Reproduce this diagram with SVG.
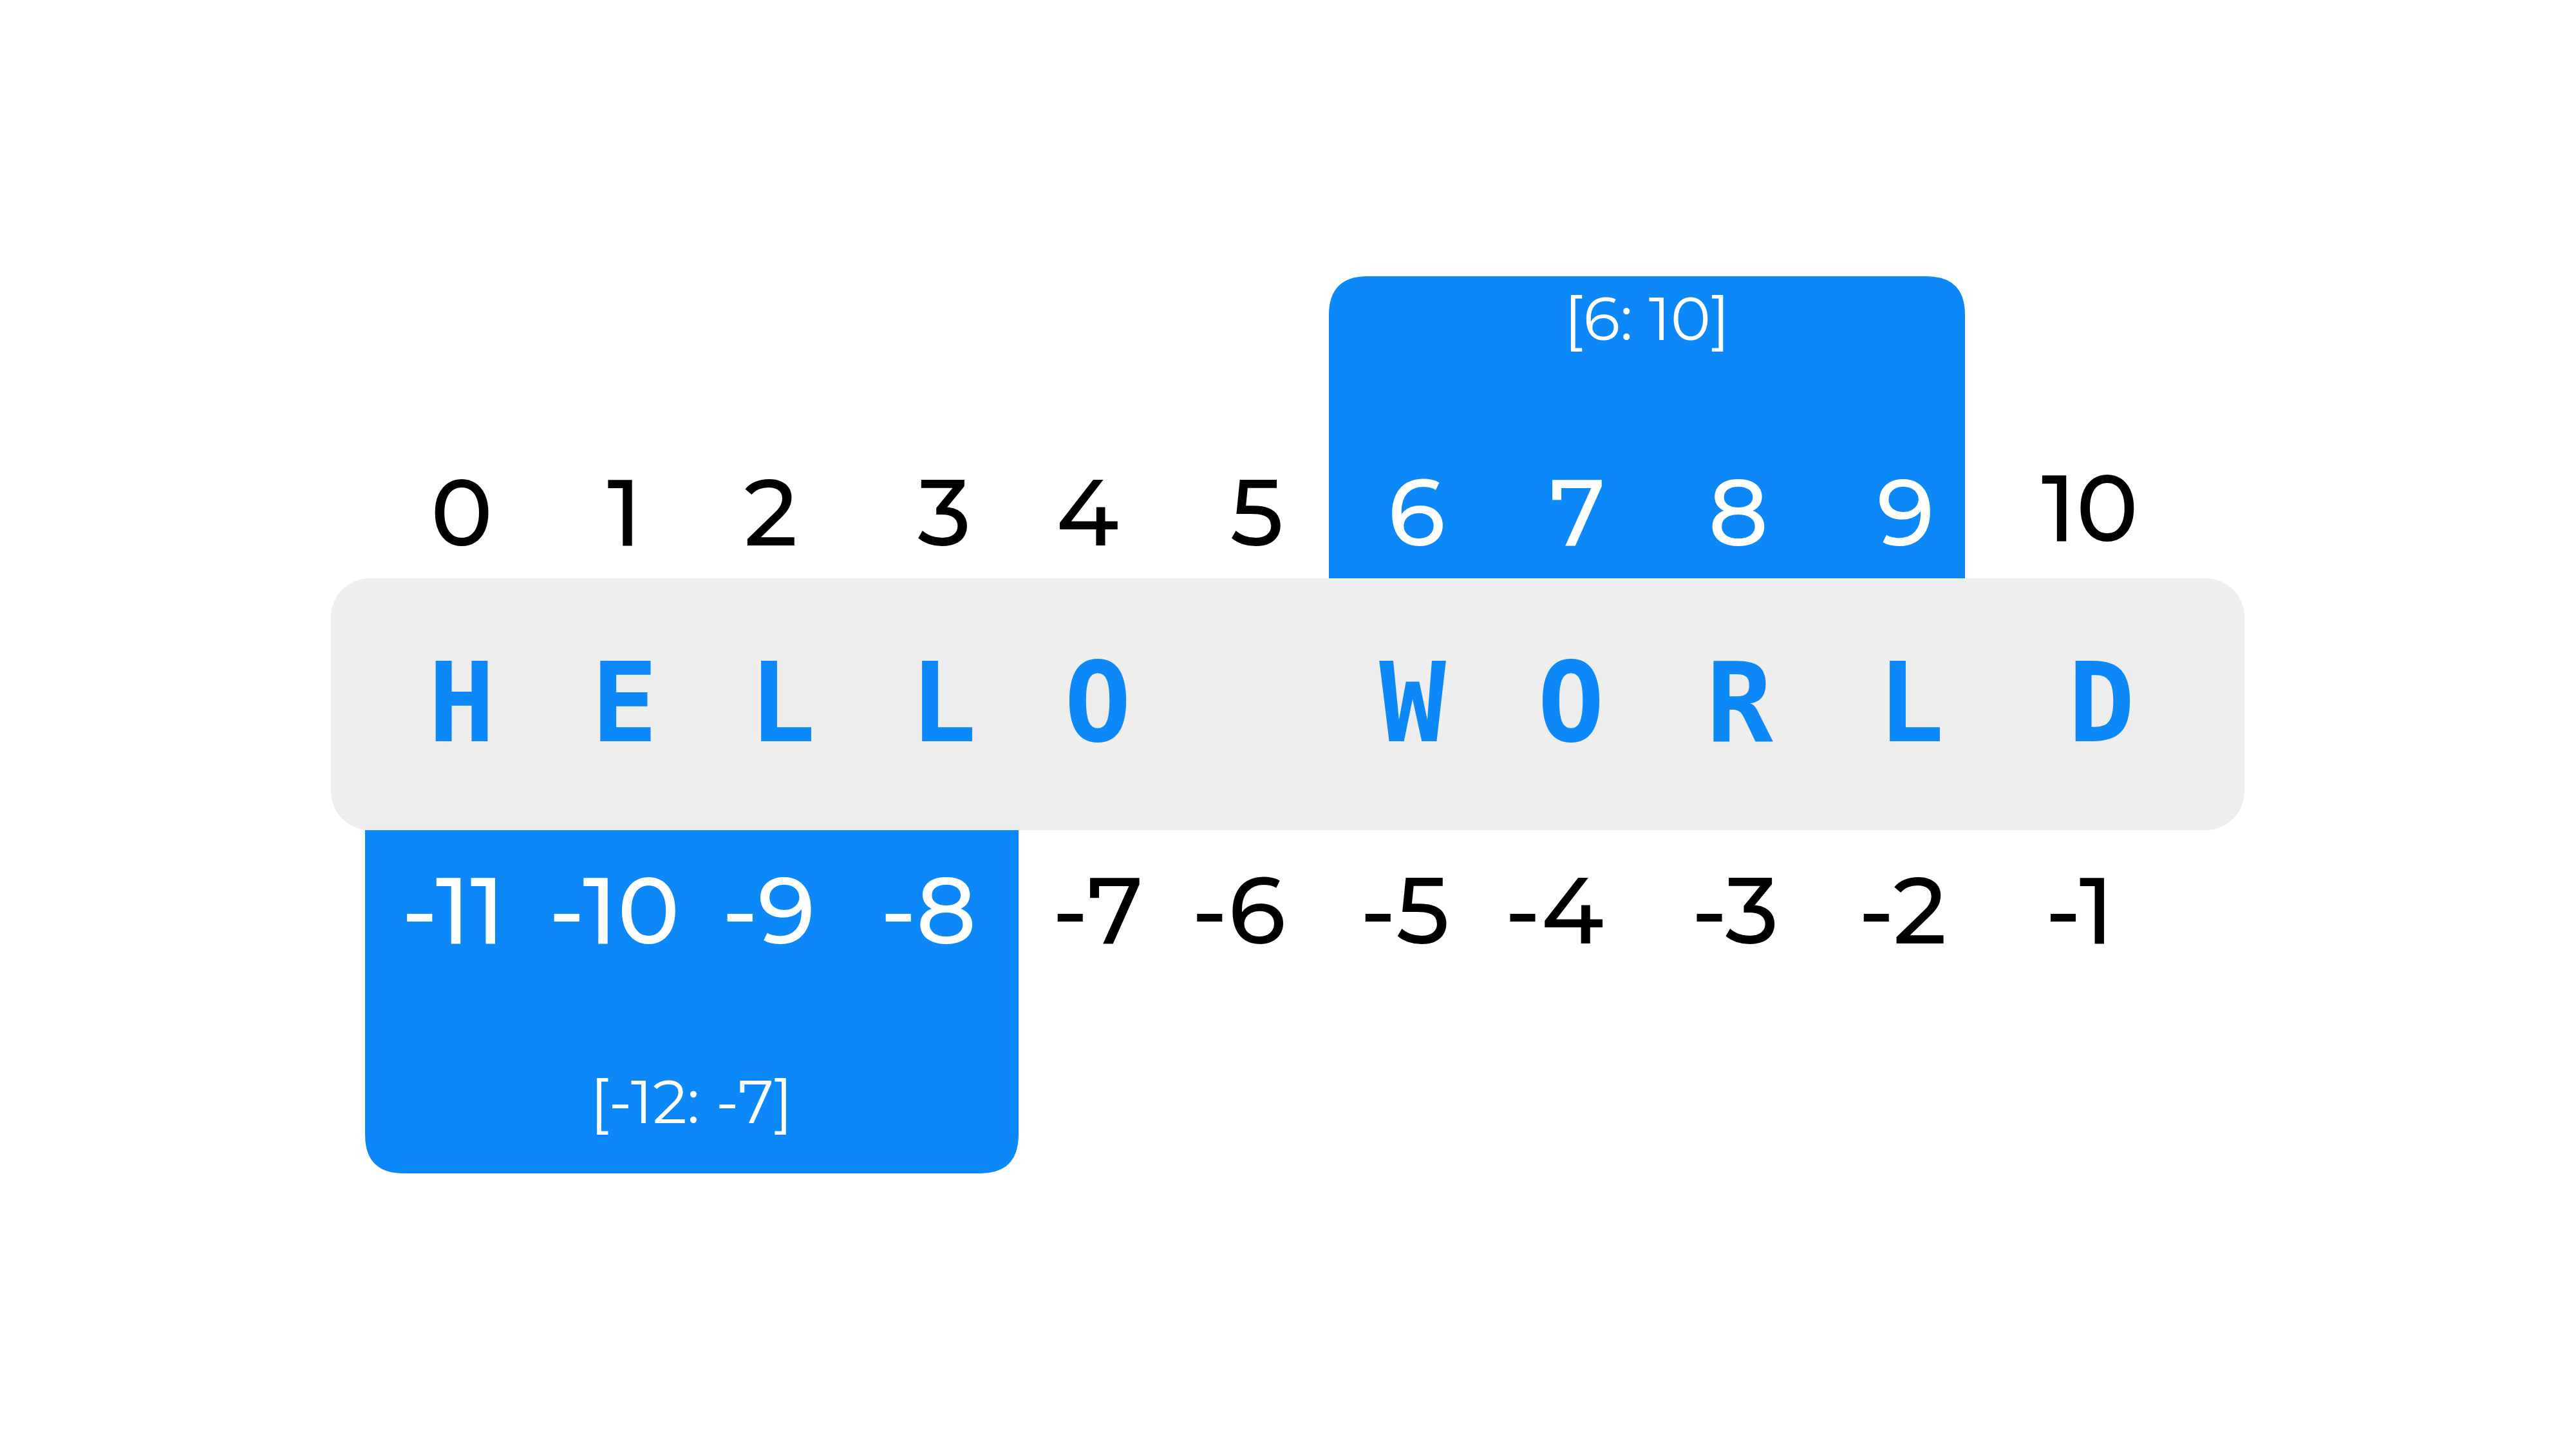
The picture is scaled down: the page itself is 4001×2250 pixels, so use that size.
<svg xmlns="http://www.w3.org/2000/svg" width="4001" height="2250" viewBox="0 0 4001 2250">
<style>
.num{font-family:"Montserrat","Open Sans","Liberation Sans",sans-serif;font-size:145px;font-weight:500;text-anchor:middle}
.blk{fill:#000}
.wht{fill:#fff}
.chr{font-family:"DejaVu Sans Mono","Liberation Mono",monospace;font-weight:bold;font-size:172px;fill:#0D88F9;text-anchor:middle}
.lbl{font-family:"Montserrat","Open Sans","Liberation Sans",sans-serif;font-size:94px;fill:#fff;text-anchor:middle}
</style>
<rect width="4001" height="2250" fill="#fff"/>
<g id="slice-top">
<path d="M2064 898 V489 Q2064 429 2124 429 H2992 Q3052 429 3052 489 V898 Z" fill="#0D88F9"/>
<text class="lbl" x="2558" y="528">[6: 10]</text>
</g>
<g id="slice-bottom">
<path d="M567 1289 H1582 V1762 Q1582 1822 1522 1822 H627 Q567 1822 567 1762 Z" fill="#0D88F9"/>
<text class="lbl" x="1074" y="1744">[-12: -7]</text>
</g>
<g id="string-bar">
<rect x="514" y="898" width="2972" height="391" rx="60" ry="60" fill="#EEEEEE"/>
<text class="chr" x="717" y="1151">H</text>
<text class="chr" x="970" y="1151">E</text>
<text class="chr" x="1215" y="1151">L</text>
<text class="chr" x="1465" y="1151">L</text>
<text class="chr" x="1705" y="1151">O</text>
<text class="chr" x="2194" y="1151">W</text>
<text class="chr" x="2440" y="1151">O</text>
<text class="chr" x="2702" y="1151">R</text>
<text class="chr" x="2968" y="1151">L</text>
<text class="chr" x="3264" y="1151">D</text>
</g>
<g id="positive-indices">
<text class="num blk" x="717" y="847">0</text>
<text class="num blk" x="970" y="847">1</text>
<text class="num blk" x="1197" y="847">2</text>
<text class="num blk" x="1467" y="847">3</text>
<text class="num blk" x="1689" y="847">4</text>
<text class="num blk" x="1952" y="847">5</text>
<text class="num wht" x="2200" y="847">6</text>
<text class="num wht" x="2450" y="847">7</text>
<text class="num wht" x="2700" y="847">8</text>
<text class="num wht" x="2960" y="847">9</text>
<text class="num blk" x="3246" y="840">10</text>
</g>
<g id="negative-indices">
<text class="num wht" x="704" y="1465">-11</text>
<text class="num wht" x="954" y="1465">-10</text>
<text class="num wht" x="1194" y="1465">-9</text>
<text class="num wht" x="1442" y="1465">-8</text>
<text class="num blk" x="1705" y="1465">-7</text>
<text class="num blk" x="1924" y="1465">-6</text>
<text class="num blk" x="2182" y="1465">-5</text>
<text class="num blk" x="2414" y="1465">-4</text>
<text class="num blk" x="2695" y="1465">-3</text>
<text class="num blk" x="2955" y="1465">-2</text>
<text class="num blk" x="3230" y="1465">-1</text>
</g>
<g id="connectors"></g>
</svg>
